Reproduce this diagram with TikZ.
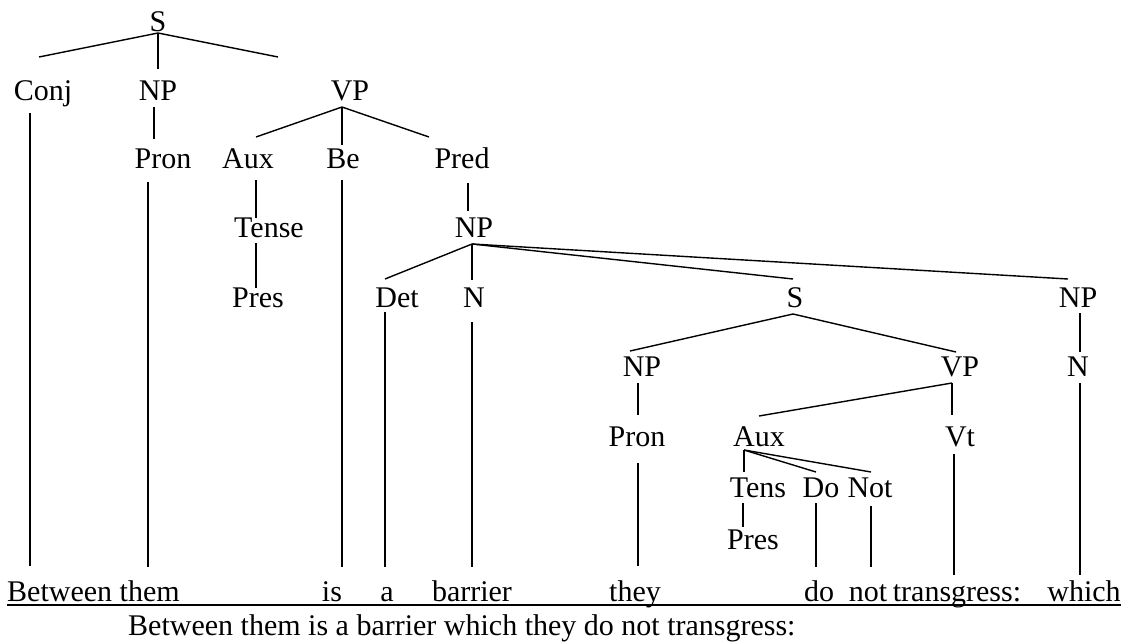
\documentclass[tikz,border=0pt]{standalone}
\usepackage{fontspec}
\setmainfont{Liberation Serif}
\begin{document}
\begin{tikzpicture}[x=1pt,y=-1pt,
  lab/.style={font=\fontsize{30}{35}\selectfont, inner sep=0pt, anchor=base},
  word/.style={lab},
  branch/.style={line width=1.4pt},
  rule/.style={line width=1.6pt}]
\useasboundingbox (0,0) rectangle (1126,643);

% ---- category labels ----
\node[lab] (s0)    at (158,31)  {S};
\node[lab] (conj)  at (43,100)  {Conj};
\node[lab] (np1)   at (158,100) {NP};
\node[lab] (vp1)   at (350,100) {VP};
\node[lab] (pron1) at (163,168) {Pron};
\node[lab] (aux1)  at (248,168) {Aux};
\node[lab] (be)    at (343,168) {Be};
\node[lab] (pred)  at (462,168) {Pred};
\node[lab] (tense) at (269,237) {Tense};
\node[lab] (np2)   at (474,237) {NP};
\node[lab] (pres1) at (258,307) {Pres};
\node[lab] (det)   at (397,307) {Det};
\node[lab] (n1)    at (474,307) {N};
\node[lab] (s2)    at (795,307) {S};
\node[lab] (np3)   at (1078,307) {NP};
\node[lab] (np4)   at (642,376) {NP};
\node[lab] (vp2)   at (960,376) {VP};
\node[lab] (n2)    at (1078,376) {N};
\node[lab] (pron2) at (637,446) {Pron};
\node[lab] (aux2)  at (759,446) {Aux};
\node[lab] (vt)    at (960,446) {Vt};
\node[lab] (tens)  at (758,497) {Tens};
\node[lab] (do)    at (821,497) {Do};
\node[lab] (not)   at (870,497) {Not};
\node[lab] (pres2) at (753,549) {Pres};

% ---- terminal words ----
\node[word, anchor=base west] (wbetween) at (7,601) {Between them};
\node[word] (wis)         at (332,601)  {is};
\node[word] (wa)          at (387,601)  {a};
\node[word] (wbarrier)    at (472,601)  {barrier};
\node[word] (wthey)       at (635,601)  {they};
\node[word] (wdo)         at (819,601)  {do};
\node[word] (wnot)        at (868,601)  {not};
\node[word] (wtransgress) at (957,601)  {transgress:};
\node[word] (wwhich)      at (1084,601) {which};
\node[word, anchor=base west] (gloss) at (128,635)
  {Between them is a barrier which they do not transgress:};

% ---- branch end points ----
\coordinate (s0-b) at (158,33);
\coordinate (conj-t) at (39,57);
\coordinate (np1-t) at (158,69);
\coordinate (vp1-t) at (278,57);
\coordinate (conj-b) at (30,113);
\coordinate (wbetween-t) at (30,566);
\coordinate (np1-b) at (154,107);
\coordinate (pron1-t) at (154,139);
\coordinate (pron1-b) at (148,182);
\coordinate (wthem-t) at (148,567);
\coordinate (vp1-b) at (342,107);
\coordinate (aux1-t) at (256,137);
\coordinate (be-t) at (342,145);
\coordinate (pred-t) at (429,137);
\coordinate (aux1-b) at (256,180);
\coordinate (tense-t) at (256,218);
\coordinate (tense-b) at (256,243);
\coordinate (pres1-t) at (256,288);
\coordinate (be-b) at (342,180);
\coordinate (wis-t) at (342,567);
\coordinate (pred-b) at (468,183);
\coordinate (np2-t) at (468,211);
\coordinate (np2-b) at (472,244);
\coordinate (det-t) at (385,279);
\coordinate (n1-t) at (472,280);
\coordinate (s2-t) at (793,279);
\coordinate (np3-t) at (1068,279);
\coordinate (det-b) at (385,312);
\coordinate (wa-t) at (385,567);
\coordinate (n1-b) at (472,322);
\coordinate (wbarrier-t) at (472,567);
\coordinate (s2-b) at (793,314);
\coordinate (np4-t) at (630,351);
\coordinate (vp2-t) at (956,352);
\coordinate (np3-b) at (1080,313);
\coordinate (n2-t) at (1080,352);
\coordinate (n2-b) at (1080,383);
\coordinate (wwhich-t) at (1080,575);
\coordinate (np4-b) at (638,383);
\coordinate (pron2-t) at (638,415);
\coordinate (pron2-b) at (638,463);
\coordinate (wthey-t) at (638,566);
\coordinate (vp2-b) at (952,383);
\coordinate (aux2-t) at (759,416);
\coordinate (vt-t) at (952,415);
\coordinate (vt-b) at (954,454);
\coordinate (wtransgress-t) at (954,575);
\coordinate (aux2-b) at (744,450);
\coordinate (tens-t) at (744,472);
\coordinate (do-t) at (816,472);
\coordinate (not-t) at (871,472);
\coordinate (tens-b) at (743,503);
\coordinate (pres2-t) at (743,527);
\coordinate (do-b) at (816,503);
\coordinate (wdo-t) at (816,567);
\coordinate (not-b) at (871,506);
\coordinate (wnot-t) at (871,567);

% ---- branches ----
\draw[branch] (s0-b) -- (conj-t);
\draw[branch] (s0-b) -- (np1-t);
\draw[branch] (s0-b) -- (vp1-t);
\draw[branch] (conj-b) -- (wbetween-t);
\draw[branch] (np1-b) -- (pron1-t);
\draw[branch] (pron1-b) -- (wthem-t);
\draw[branch] (vp1-b) -- (aux1-t);
\draw[branch] (vp1-b) -- (be-t);
\draw[branch] (vp1-b) -- (pred-t);
\draw[branch] (aux1-b) -- (tense-t);
\draw[branch] (tense-b) -- (pres1-t);
\draw[branch] (be-b) -- (wis-t);
\draw[branch] (pred-b) -- (np2-t);
\draw[branch] (np2-b) -- (det-t);
\draw[branch] (np2-b) -- (n1-t);
\draw[branch] (np2-b) -- (s2-t);
\draw[branch] (np2-b) -- (np3-t);
\draw[branch] (det-b) -- (wa-t);
\draw[branch] (n1-b) -- (wbarrier-t);
\draw[branch] (s2-b) -- (np4-t);
\draw[branch] (s2-b) -- (vp2-t);
\draw[branch] (np3-b) -- (n2-t);
\draw[branch] (n2-b) -- (wwhich-t);
\draw[branch] (np4-b) -- (pron2-t);
\draw[branch] (pron2-b) -- (wthey-t);
\draw[branch] (vp2-b) -- (aux2-t);
\draw[branch] (vp2-b) -- (vt-t);
\draw[branch] (vt-b) -- (wtransgress-t);
\draw[branch] (aux2-b) -- (tens-t);
\draw[branch] (aux2-b) -- (do-t);
\draw[branch] (aux2-b) -- (not-t);
\draw[branch] (tens-b) -- (pres2-t);
\draw[branch] (do-b) -- (wdo-t);
\draw[branch] (not-b) -- (wnot-t);

% ---- rule under the terminal string ----
\draw[rule] (wbetween.south west |- 0,605) -- (wwhich.east |- 0,605);
\end{tikzpicture}
\end{document}
